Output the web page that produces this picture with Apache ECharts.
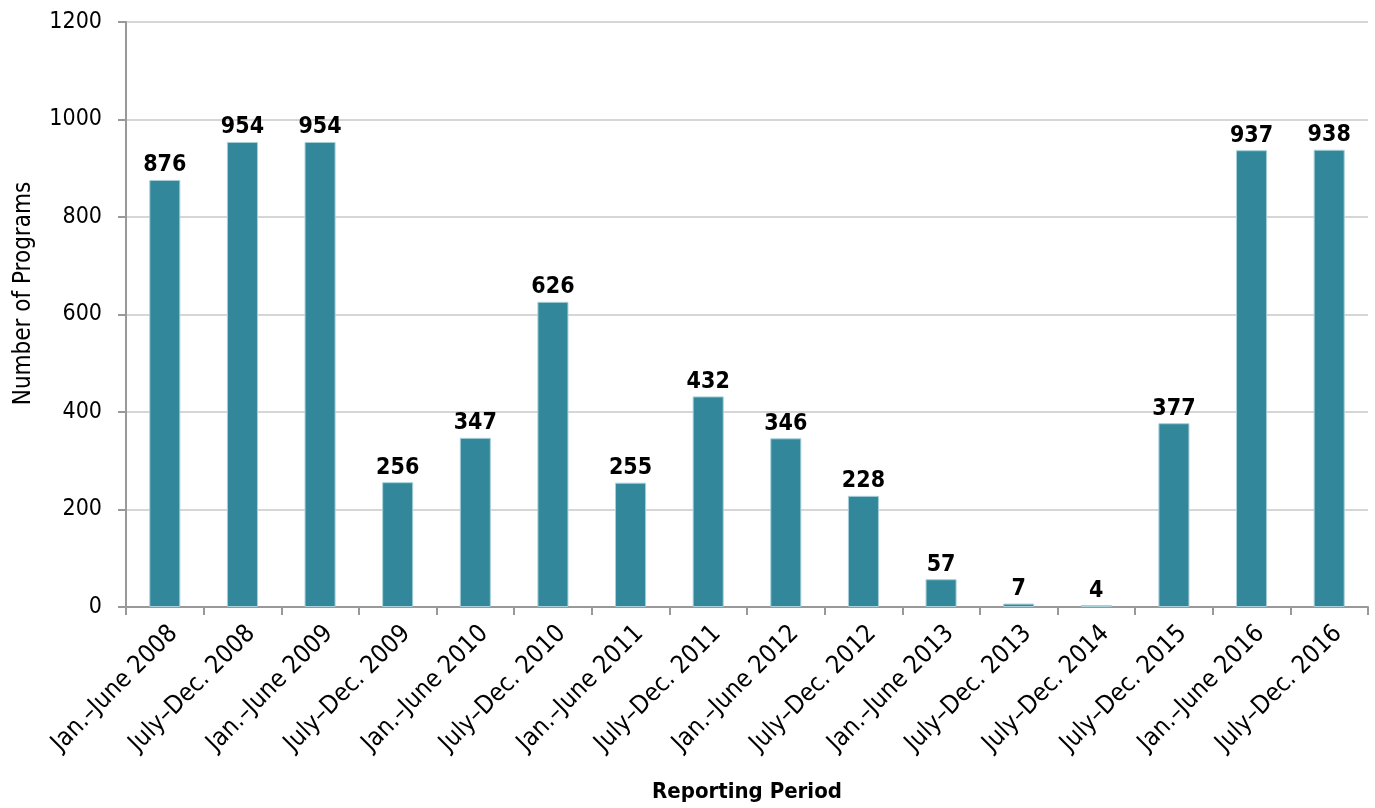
<!DOCTYPE html>
<html>
<head>
<meta charset="utf-8">
<script src="https://cdn.jsdelivr.net/npm/echarts@6/dist/echarts.min.js"></script>
<style>
  html, body { margin: 0; padding: 0; background: #fff; }
  #chart { width: 1375px; height: 808px; }
</style>
</head>
<body>
<div id="chart"></div>
<script>
// Reporting periods and program counts
const categories = [
  'Jan.–June 2008', 'July–Dec. 2008', 'Jan.–June 2009', 'July–Dec. 2009',
  'Jan.–June 2010', 'July–Dec. 2010', 'Jan.–June 2011', 'July–Dec. 2011',
  'Jan.–June 2012', 'July–Dec. 2012', 'Jan.–June 2013', 'July–Dec. 2013',
  'July–Dec. 2014', 'July–Dec. 2015', 'Jan.–June 2016', 'July–Dec. 2016'
];
const programs = [876, 954, 954, 256, 347, 626, 255, 432, 346, 228, 57, 7, 4, 377, 937, 938];
const yTicks = { min: 0, max: 1200, interval: 200 };

const FONT = '"DejaVu Sans Condensed", "Liberation Sans Narrow", "DejaVu Sans", sans-serif';

const chart = echarts.init(document.getElementById('chart'));
chart.setOption({
  animation: false,
  textStyle: { fontFamily: FONT },
  grid: { left: 126, right: 7, top: 22, bottom: 201, outerBoundsMode: 'none' },
  xAxis: {
    type: 'category',
    data: categories,
    name: 'Reporting Period',
    nameLocation: 'middle',
    nameGap: 174,
    nameTextStyle: { fontFamily: FONT, fontSize: 22, fontWeight: 'bold', color: '#000' },
    axisLine: { lineStyle: { color: '#999', width: 2 } },
    axisTick: { show: true, length: 8, lineStyle: { color: '#999', width: 2 } },
    axisLabel: { rotate: 45, fontFamily: FONT, fontSize: 25, color: '#000', margin: 14, verticalAlign: 'top', interval: 0 }
  },
  yAxis: {
    type: 'value',
    min: yTicks.min,
    max: yTicks.max,
    interval: yTicks.interval,
    name: 'Number of Programs',
    nameLocation: 'middle',
    nameGap: 90,
    nameRotate: 90,
    nameTextStyle: { fontFamily: FONT, fontSize: 24, color: '#000', padding: [0, 0, 0, 42] },
    axisLine: { show: true, lineStyle: { color: '#999', width: 2 } },
    axisTick: { show: true, length: 8, lineStyle: { color: '#999', width: 2 } },
    axisLabel: { fontFamily: FONT, fontSize: 23, color: '#000', margin: 24, formatter: v => String(v) },
    splitLine: { lineStyle: { color: '#c8c8c8', width: 1.5 } }
  },
  series: [{
    type: 'bar',
    data: programs,
    barWidth: '40%',
    itemStyle: { color: '#32879b', borderColor: '#a9d0da', borderWidth: 1 },
    label: {
      show: true,
      position: 'top',
      distance: 3,
      fontFamily: FONT,
      fontSize: 23,
      fontWeight: 'bold',
      color: '#000'
    }
  }]
});
</script>
</body>
</html>
